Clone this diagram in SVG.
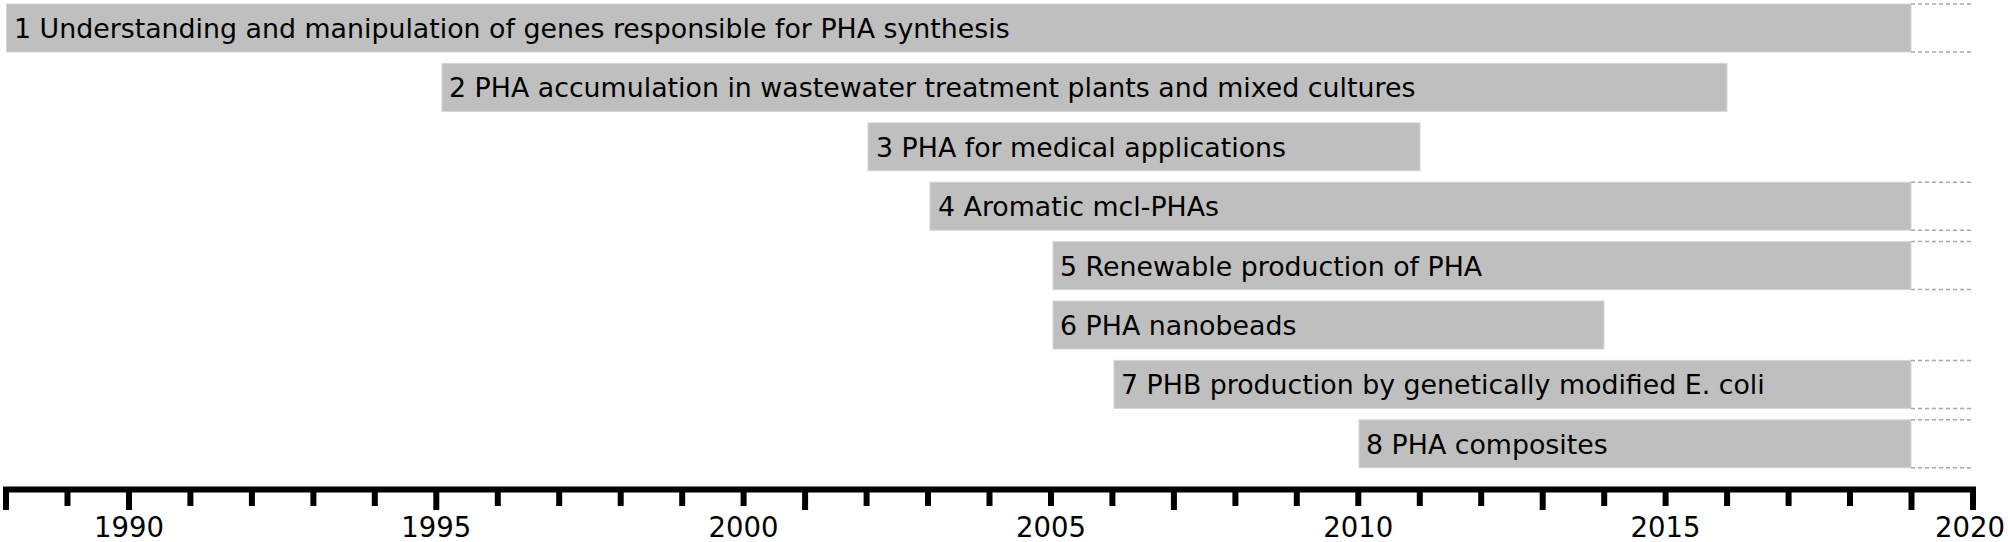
<svg xmlns="http://www.w3.org/2000/svg" width="2008" height="542" viewBox="0 0 2008 542">
<style>
.bar{fill:#bfbfbf;stroke:#d6d6d6;stroke-width:1}
.lbl{font-family:"DejaVu Sans",sans-serif;font-size:26.8px;fill:#000}
.yr{font-family:"DejaVu Sans",sans-serif;font-size:27.5px;fill:#000;text-anchor:middle}
.dash{stroke:#a8a8a8;stroke-width:1.5;stroke-dasharray:4 3;fill:none}
.axis{stroke:#000;stroke-width:6;fill:none}
</style>
<rect width="2008" height="542" fill="#fff"/>
<g id="bar1"><rect class="bar" x="6.5" y="4" width="1904.5" height="48"/><text class="lbl" x="14" y="38">1 Understanding and manipulation of genes responsible for PHA synthesis</text></g>
<g id="bar2"><rect class="bar" x="442" y="63.4" width="1285" height="48"/><text class="lbl" x="449" y="97.4">2 PHA accumulation in wastewater treatment plants and mixed cultures</text></g>
<g id="bar3"><rect class="bar" x="868" y="122.8" width="552" height="48"/><text class="lbl" x="876" y="156.8">3 PHA for medical applications</text></g>
<g id="bar4"><rect class="bar" x="930" y="182.2" width="981" height="48"/><text class="lbl" x="938" y="216.2">4 Aromatic mcl-PHAs</text></g>
<g id="bar5"><rect class="bar" x="1053" y="241.6" width="858" height="48"/><text class="lbl" x="1060" y="275.6">5 Renewable production of PHA</text></g>
<g id="bar6"><rect class="bar" x="1053" y="301" width="551" height="48"/><text class="lbl" x="1060" y="335">6 PHA nanobeads</text></g>
<g id="bar7"><rect class="bar" x="1114" y="360.4" width="797" height="48"/><text class="lbl" x="1121" y="394.4">7 PHB production by genetically modified E. coli</text></g>
<g id="bar8"><rect class="bar" x="1359" y="419.8" width="552" height="48"/><text class="lbl" x="1366" y="453.8">8 PHA composites</text></g>
<g id="extensions">
<path class="dash" d="M1911 4H1973M1911 52H1973"/>
<path class="dash" d="M1911 182.2H1973M1911 230.2H1973"/>
<path class="dash" d="M1911 241.6H1973M1911 289.6H1973"/>
<path class="dash" d="M1911 360.4H1973M1911 408.4H1973"/>
<path class="dash" d="M1911 419.8H1973M1911 467.8H1973"/>
</g>
<g id="axis">
<path class="axis" d="M3 489.5H1976"/>
<path class="axis" d="M6 489.5V510M67.5 489.5V506M129 489.5V510M190.4 489.5V506M251.9 489.5V506M313.4 489.5V506M374.8 489.5V506M436.3 489.5V510M497.8 489.5V506M559.2 489.5V506M620.7 489.5V506M682.2 489.5V506M743.6 489.5V506M805.1 489.5V510M866.6 489.5V506M928 489.5V506M989.5 489.5V506M1051 489.5V506M1112.4 489.5V506M1173.9 489.5V510M1235.4 489.5V506M1296.8 489.5V506M1358.3 489.5V506M1419.8 489.5V506M1481.2 489.5V506M1542.7 489.5V510M1604.2 489.5V506M1665.6 489.5V506M1727.1 489.5V506M1788.6 489.5V506M1850 489.5V506M1911.5 489.5V510M1973 489.5V510"/>
<text class="yr" x="129" y="537">1990</text>
<text class="yr" x="436.3" y="537">1995</text>
<text class="yr" x="743.6" y="537">2000</text>
<text class="yr" x="1051" y="537">2005</text>
<text class="yr" x="1358.3" y="537">2010</text>
<text class="yr" x="1665.6" y="537">2015</text>
<text class="yr" x="1970" y="537">2020</text>
</g>
</svg>
